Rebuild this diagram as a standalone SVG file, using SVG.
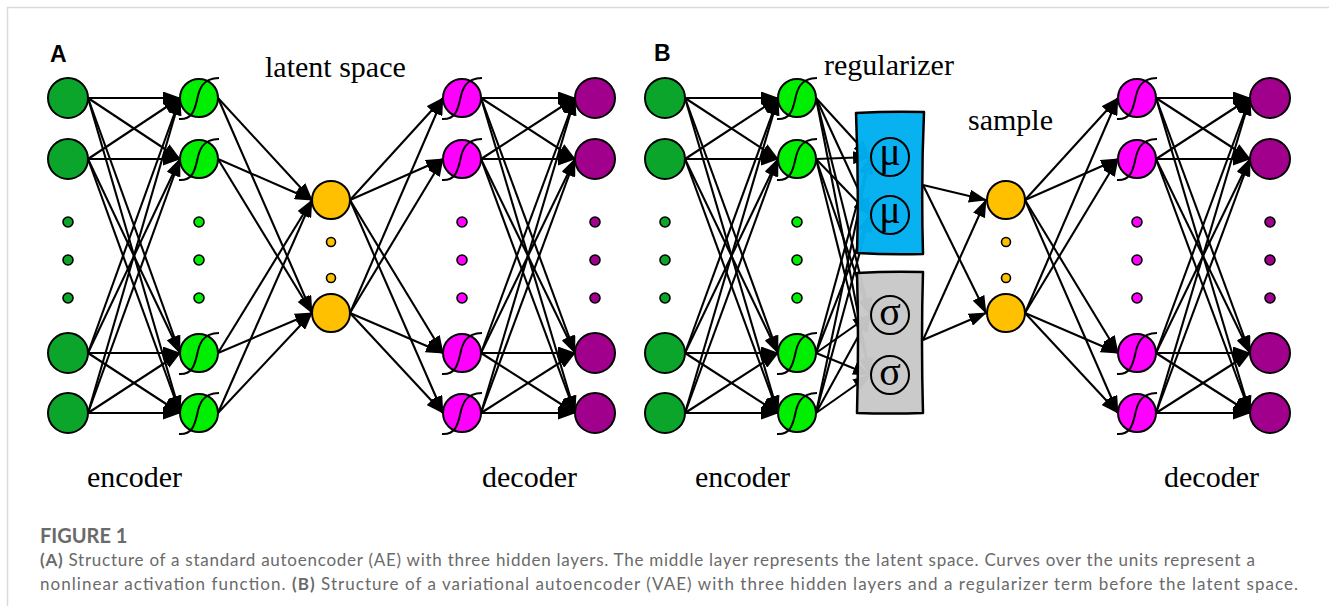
<svg xmlns="http://www.w3.org/2000/svg" xmlns:xlink="http://www.w3.org/1999/xlink" width="1329" height="606" viewBox="0 0 1329 606">
<style>
.n{stroke:#000;stroke-width:2}
.in{fill:#0aa52a}
.h{fill:#00ee00}
.lat{fill:#ffc000}
.dh{fill:#ff00ff}
.out{fill:#a0008c}
.dot{stroke:#000;stroke-width:1.6}
.sig{fill:none;stroke:#000;stroke-width:2}
.conn line{stroke:#000;stroke-width:2.1;marker-end:url(#ah)}
.lbl{font-family:"Liberation Serif","Times New Roman",serif;font-size:30px;fill:#000}
.pl{font-family:"Liberation Sans",Arial,sans-serif;font-size:23px;font-weight:bold;fill:#000}
.sym{font-family:"Liberation Serif","Times New Roman",serif;font-size:40px;fill:#000;text-anchor:middle}
.cap{font-family:Lato,"Open Sans","Liberation Sans",sans-serif;font-size:17px;fill:#6a6a6a}
.fig{font-family:Lato,"Open Sans","Liberation Sans",sans-serif;font-size:20px;font-weight:bold;fill:#6a6a6a}
.box{stroke:#000;stroke-width:2.5;stroke-linejoin:round}
</style>
<defs>
<marker id="ah" markerUnits="userSpaceOnUse" viewBox="0 0 18 13" markerWidth="18" markerHeight="13" refX="17" refY="6.5" orient="auto"><path d="M0,0 L18,6.5 L0,13 Z" fill="#000"/></marker>
<path id="sg" d="M-20,21 C-6,22 -4,10 -2,2 C0,-8 3,-20 20,-20"/>
</defs>
<rect width="1329" height="606" fill="#fff"/>
<path d="M7.5,606 V7.5 H1329" fill="none" stroke="#dadada" stroke-width="1.5"/>

<g id="connectors" class="conn">
<!-- A: input -> hidden1 -->
<line x1="88" y1="98" x2="180" y2="98"/><line x1="88" y1="98" x2="180" y2="159"/><line x1="88" y1="98" x2="180" y2="353"/><line x1="88" y1="98" x2="180" y2="413"/>
<line x1="88" y1="159" x2="180" y2="98"/><line x1="88" y1="159" x2="180" y2="159"/><line x1="88" y1="159" x2="180" y2="353"/><line x1="88" y1="159" x2="180" y2="413"/>
<line x1="88" y1="353" x2="180" y2="98"/><line x1="88" y1="353" x2="180" y2="159"/><line x1="88" y1="353" x2="180" y2="353"/><line x1="88" y1="353" x2="180" y2="413"/>
<line x1="88" y1="413" x2="180" y2="98"/><line x1="88" y1="413" x2="180" y2="159"/><line x1="88" y1="413" x2="180" y2="353"/><line x1="88" y1="413" x2="180" y2="413"/>
<!-- A: hidden1 -> latent -->
<line x1="218" y1="98" x2="312" y2="200"/><line x1="218" y1="98" x2="312" y2="313"/>
<line x1="218" y1="159" x2="312" y2="200"/><line x1="218" y1="159" x2="312" y2="313"/>
<line x1="218" y1="353" x2="312" y2="200"/><line x1="218" y1="353" x2="312" y2="313"/>
<line x1="218" y1="413" x2="312" y2="200"/><line x1="218" y1="413" x2="312" y2="313"/>
<!-- A: latent -> decoder hidden -->
<line x1="350" y1="200" x2="443" y2="98"/><line x1="350" y1="200" x2="443" y2="159"/><line x1="350" y1="200" x2="443" y2="353"/><line x1="350" y1="200" x2="443" y2="413"/>
<line x1="350" y1="313" x2="443" y2="98"/><line x1="350" y1="313" x2="443" y2="159"/><line x1="350" y1="313" x2="443" y2="353"/><line x1="350" y1="313" x2="443" y2="413"/>
<!-- A: decoder hidden -> output -->
<line x1="481" y1="98" x2="575" y2="98"/><line x1="481" y1="98" x2="575" y2="159"/><line x1="481" y1="98" x2="575" y2="353"/><line x1="481" y1="98" x2="575" y2="413"/>
<line x1="481" y1="159" x2="575" y2="98"/><line x1="481" y1="159" x2="575" y2="159"/><line x1="481" y1="159" x2="575" y2="353"/><line x1="481" y1="159" x2="575" y2="413"/>
<line x1="481" y1="353" x2="575" y2="98"/><line x1="481" y1="353" x2="575" y2="159"/><line x1="481" y1="353" x2="575" y2="353"/><line x1="481" y1="353" x2="575" y2="413"/>
<line x1="481" y1="413" x2="575" y2="98"/><line x1="481" y1="413" x2="575" y2="159"/><line x1="481" y1="413" x2="575" y2="353"/><line x1="481" y1="413" x2="575" y2="413"/>
<!-- B: input -> hidden1 -->
<line x1="685" y1="98" x2="778" y2="98"/><line x1="685" y1="98" x2="778" y2="159"/><line x1="685" y1="98" x2="778" y2="353"/><line x1="685" y1="98" x2="778" y2="413"/>
<line x1="685" y1="159" x2="778" y2="98"/><line x1="685" y1="159" x2="778" y2="159"/><line x1="685" y1="159" x2="778" y2="353"/><line x1="685" y1="159" x2="778" y2="413"/>
<line x1="685" y1="353" x2="778" y2="98"/><line x1="685" y1="353" x2="778" y2="159"/><line x1="685" y1="353" x2="778" y2="353"/><line x1="685" y1="353" x2="778" y2="413"/>
<line x1="685" y1="413" x2="778" y2="98"/><line x1="685" y1="413" x2="778" y2="159"/><line x1="685" y1="413" x2="778" y2="353"/><line x1="685" y1="413" x2="778" y2="413"/>
<!-- B: hidden1 -> mu / sigma -->
<line x1="816" y1="98" x2="870" y2="157"/><line x1="816" y1="98" x2="870" y2="215"/><line x1="816" y1="98" x2="870" y2="315"/><line x1="816" y1="98" x2="870" y2="375"/>
<line x1="816" y1="159" x2="870" y2="157"/><line x1="816" y1="159" x2="870" y2="215"/><line x1="816" y1="159" x2="870" y2="315"/><line x1="816" y1="159" x2="870" y2="375"/>
<line x1="816" y1="353" x2="870" y2="157"/><line x1="816" y1="353" x2="870" y2="215"/><line x1="816" y1="353" x2="870" y2="315"/><line x1="816" y1="353" x2="870" y2="375"/>
<line x1="816" y1="413" x2="870" y2="157"/><line x1="816" y1="413" x2="870" y2="215"/><line x1="816" y1="413" x2="870" y2="315"/><line x1="816" y1="413" x2="870" y2="375"/>
<!-- B: regularizer -> latent -->
<line x1="923" y1="185" x2="986" y2="200"/><line x1="923" y1="185" x2="986" y2="313"/>
<line x1="923" y1="340" x2="986" y2="200"/><line x1="923" y1="340" x2="986" y2="313"/>
<!-- B: latent -> decoder hidden -->
<line x1="1025" y1="200" x2="1118" y2="98"/><line x1="1025" y1="200" x2="1118" y2="159"/><line x1="1025" y1="200" x2="1118" y2="353"/><line x1="1025" y1="200" x2="1118" y2="413"/>
<line x1="1025" y1="313" x2="1118" y2="98"/><line x1="1025" y1="313" x2="1118" y2="159"/><line x1="1025" y1="313" x2="1118" y2="353"/><line x1="1025" y1="313" x2="1118" y2="413"/>
<!-- B: decoder hidden -> output -->
<line x1="1156" y1="98" x2="1250" y2="98"/><line x1="1156" y1="98" x2="1250" y2="159"/><line x1="1156" y1="98" x2="1250" y2="353"/><line x1="1156" y1="98" x2="1250" y2="413"/>
<line x1="1156" y1="159" x2="1250" y2="98"/><line x1="1156" y1="159" x2="1250" y2="159"/><line x1="1156" y1="159" x2="1250" y2="353"/><line x1="1156" y1="159" x2="1250" y2="413"/>
<line x1="1156" y1="353" x2="1250" y2="98"/><line x1="1156" y1="353" x2="1250" y2="159"/><line x1="1156" y1="353" x2="1250" y2="353"/><line x1="1156" y1="353" x2="1250" y2="413"/>
<line x1="1156" y1="413" x2="1250" y2="98"/><line x1="1156" y1="413" x2="1250" y2="159"/><line x1="1156" y1="413" x2="1250" y2="353"/><line x1="1156" y1="413" x2="1250" y2="413"/>
</g>

<!-- Panel A nodes -->
<g id="A-in-1"><circle class="n in" cx="68" cy="98" r="20"/></g>
<g id="A-in-2"><circle class="n in" cx="68" cy="159" r="20"/></g>
<g id="A-in-dots"><circle class="dot in" cx="68" cy="222" r="5"/><circle class="dot in" cx="68" cy="260" r="5"/><circle class="dot in" cx="68" cy="298" r="5"/></g>
<g id="A-in-3"><circle class="n in" cx="68" cy="353" r="20"/></g>
<g id="A-in-4"><circle class="n in" cx="68" cy="413" r="20"/></g>

<g id="A-h1-1"><circle class="n h" cx="199" cy="98" r="19"/><use href="#sg" class="sig" x="199" y="98"/></g>
<g id="A-h1-2"><circle class="n h" cx="199" cy="159" r="19"/><use href="#sg" class="sig" x="199" y="159"/></g>
<g id="A-h1-dots"><circle class="dot h" cx="199" cy="222" r="5"/><circle class="dot h" cx="199" cy="260" r="5"/><circle class="dot h" cx="199" cy="298" r="5"/></g>
<g id="A-h1-3"><circle class="n h" cx="199" cy="353" r="19"/><use href="#sg" class="sig" x="199" y="353"/></g>
<g id="A-h1-4"><circle class="n h" cx="199" cy="413" r="19"/><use href="#sg" class="sig" x="199" y="413"/></g>

<g id="A-lat-1"><circle class="n lat" cx="331" cy="200" r="19"/></g>
<g id="A-lat-dots"><circle class="dot lat" cx="331" cy="242" r="4.5"/><circle class="dot lat" cx="331" cy="278" r="4.5"/></g>
<g id="A-lat-2"><circle class="n lat" cx="331" cy="313" r="19"/></g>

<g id="A-dh-1"><circle class="n dh" cx="462" cy="98" r="19"/><use href="#sg" class="sig" x="462" y="98"/></g>
<g id="A-dh-2"><circle class="n dh" cx="462" cy="159" r="19"/><use href="#sg" class="sig" x="462" y="159"/></g>
<g id="A-dh-dots"><circle class="dot dh" cx="462" cy="222" r="5"/><circle class="dot dh" cx="462" cy="260" r="5"/><circle class="dot dh" cx="462" cy="298" r="5"/></g>
<g id="A-dh-3"><circle class="n dh" cx="462" cy="353" r="19"/><use href="#sg" class="sig" x="462" y="353"/></g>
<g id="A-dh-4"><circle class="n dh" cx="462" cy="413" r="19"/><use href="#sg" class="sig" x="462" y="413"/></g>

<g id="A-out-1"><circle class="n out" cx="595" cy="98" r="20"/></g>
<g id="A-out-2"><circle class="n out" cx="595" cy="159" r="20"/></g>
<g id="A-out-dots"><circle class="dot out" cx="595" cy="222" r="5"/><circle class="dot out" cx="595" cy="260" r="5"/><circle class="dot out" cx="595" cy="298" r="5"/></g>
<g id="A-out-3"><circle class="n out" cx="595" cy="353" r="20"/></g>
<g id="A-out-4"><circle class="n out" cx="595" cy="413" r="20"/></g>

<!-- Panel B nodes -->
<g id="B-in-1"><circle class="n in" cx="665" cy="98" r="20"/></g>
<g id="B-in-2"><circle class="n in" cx="665" cy="159" r="20"/></g>
<g id="B-in-dots"><circle class="dot in" cx="665" cy="222" r="5"/><circle class="dot in" cx="665" cy="260" r="5"/><circle class="dot in" cx="665" cy="298" r="5"/></g>
<g id="B-in-3"><circle class="n in" cx="665" cy="353" r="20"/></g>
<g id="B-in-4"><circle class="n in" cx="665" cy="413" r="20"/></g>

<g id="B-h1-1"><circle class="n h" cx="797" cy="98" r="19"/><use href="#sg" class="sig" x="797" y="98"/></g>
<g id="B-h1-2"><circle class="n h" cx="797" cy="159" r="19"/><use href="#sg" class="sig" x="797" y="159"/></g>
<g id="B-h1-dots"><circle class="dot h" cx="797" cy="222" r="5"/><circle class="dot h" cx="797" cy="260" r="5"/><circle class="dot h" cx="797" cy="298" r="5"/></g>
<g id="B-h1-3"><circle class="n h" cx="797" cy="353" r="19"/><use href="#sg" class="sig" x="797" y="353"/></g>
<g id="B-h1-4"><circle class="n h" cx="797" cy="413" r="19"/><use href="#sg" class="sig" x="797" y="413"/></g>

<g id="B-mu-box">
<path class="box" fill="#00b0f0" fill-opacity="0.97" d="M856,113 Q890,111 924,112 Q921,182 923,254 Q890,255 857,253 Q859,185 856,113 Z"/>
<circle cx="890" cy="157" r="19" fill="none" stroke="#000" stroke-width="2"/><text class="sym" x="890" y="165">μ</text>
<circle cx="890" cy="215" r="19" fill="none" stroke="#000" stroke-width="2"/><text class="sym" x="890" y="223">μ</text>
</g>
<g id="B-sigma-box">
<path class="box" fill="#c8c8c8" fill-opacity="0.97" d="M857,273 Q890,271 923,272 Q921,340 923,413 Q890,414 857,413 Q859,340 857,273 Z"/>
<circle cx="890" cy="315" r="19" fill="none" stroke="#000" stroke-width="2"/><text class="sym" x="890" y="325">σ</text>
<circle cx="890" cy="375" r="19" fill="none" stroke="#000" stroke-width="2"/><text class="sym" x="890" y="385">σ</text>
</g>

<g id="B-lat-1"><circle class="n lat" cx="1006" cy="200" r="19"/></g>
<g id="B-lat-dots"><circle class="dot lat" cx="1006" cy="242" r="4.5"/><circle class="dot lat" cx="1006" cy="278" r="4.5"/></g>
<g id="B-lat-2"><circle class="n lat" cx="1006" cy="313" r="19"/></g>

<g id="B-dh-1"><circle class="n dh" cx="1137" cy="98" r="19"/><use href="#sg" class="sig" x="1137" y="98"/></g>
<g id="B-dh-2"><circle class="n dh" cx="1137" cy="159" r="19"/><use href="#sg" class="sig" x="1137" y="159"/></g>
<g id="B-dh-dots"><circle class="dot dh" cx="1137" cy="222" r="5"/><circle class="dot dh" cx="1137" cy="260" r="5"/><circle class="dot dh" cx="1137" cy="298" r="5"/></g>
<g id="B-dh-3"><circle class="n dh" cx="1137" cy="353" r="19"/><use href="#sg" class="sig" x="1137" y="353"/></g>
<g id="B-dh-4"><circle class="n dh" cx="1137" cy="413" r="19"/><use href="#sg" class="sig" x="1137" y="413"/></g>

<g id="B-out-1"><circle class="n out" cx="1270" cy="98" r="20"/></g>
<g id="B-out-2"><circle class="n out" cx="1270" cy="159" r="20"/></g>
<g id="B-out-dots"><circle class="dot out" cx="1270" cy="222" r="5"/><circle class="dot out" cx="1270" cy="260" r="5"/><circle class="dot out" cx="1270" cy="298" r="5"/></g>
<g id="B-out-3"><circle class="n out" cx="1270" cy="353" r="20"/></g>
<g id="B-out-4"><circle class="n out" cx="1270" cy="413" r="20"/></g>

<!-- labels -->
<g id="labels">
<text class="pl" x="50" y="62">A</text>
<text class="pl" x="654" y="61">B</text>
<text class="lbl" x="265" y="77">latent space</text>
<text class="lbl" x="824" y="75">regularizer</text>
<text class="lbl" x="968" y="130">sample</text>
<text class="lbl" x="87" y="487">encoder</text>
<text class="lbl" x="482" y="487">decoder</text>
<text class="lbl" x="695" y="487">encoder</text>
<text class="lbl" x="1164" y="487">decoder</text>
</g>

<g id="caption">
<text class="fig" x="40" y="543">FIGURE 1</text>
<text class="cap" x="40" y="566" textLength="1215" lengthAdjust="spacing"><tspan font-weight="bold">(A)</tspan> Structure of a standard autoencoder (AE) with three hidden layers. The middle layer represents the latent space. Curves over the units represent a</text>
<text class="cap" x="40" y="590" textLength="1258" lengthAdjust="spacing">nonlinear activation function. <tspan font-weight="bold">(B)</tspan> Structure of a variational autoencoder (VAE) with three hidden layers and a regularizer term before the latent space.</text>
</g>
</svg>
